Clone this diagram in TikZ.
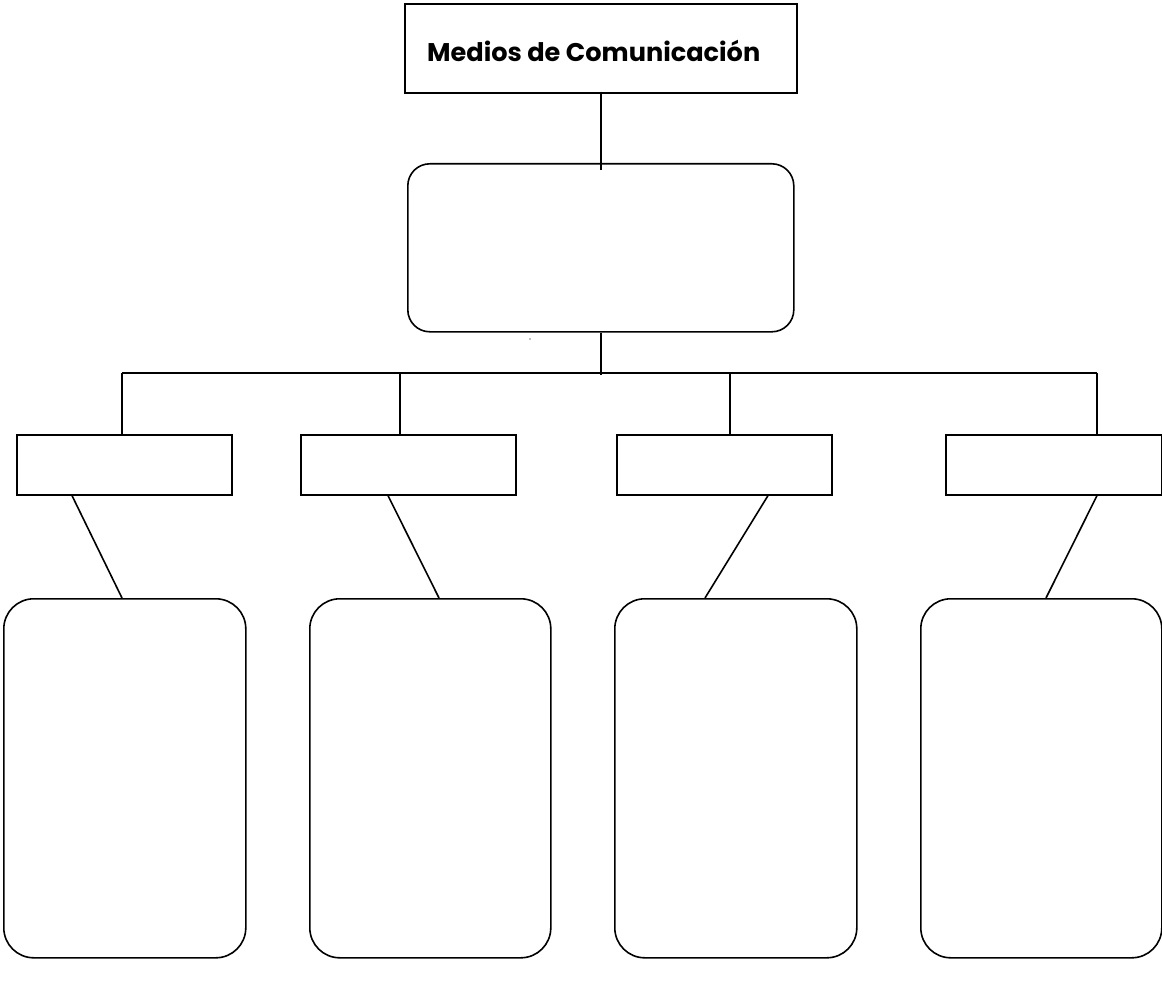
\documentclass[tikz,border=0pt]{standalone}
\usepackage{fontspec}
\setmainfont{Poppins}
\usetikzlibrary{calc}
\tikzset{
  box/.style={draw=black, line width=1.6pt, fill=white, inner sep=0pt, anchor=north west},
  rbox/.style={box, rounded corners=#1},
  link/.style={draw=black, line width=1.6pt},
}
\begin{document}
\begin{tikzpicture}[x=1pt,y=-1pt]
\useasboundingbox (0,0) rectangle (1162,987);
% title
\node[box, minimum width=392pt, minimum height=89pt] (title) at (404,3) {};
\node[anchor=base west, inner sep=0pt] (ttext) at (427,62) {\resizebox{333pt}{!}{\bfseries Medios de Comunicación}};
% central rounded box
\node[rbox=22pt, minimum width=386pt, minimum height=168pt] (mid) at (407,163) {};
% small boxes
\node[box, minimum width=215pt, minimum height=60pt] (s1) at (16,434) {};
\node[box, minimum width=215pt, minimum height=60pt] (s2) at (300,434) {};
\node[box, minimum width=215pt, minimum height=60pt] (s3) at (616,434) {};
\node[box, minimum width=216pt, minimum height=60pt] (s4) at (945,434) {};
% tall boxes
\node[rbox=30pt, minimum width=242pt, minimum height=359pt] (t1) at (3,598) {};
\node[rbox=30pt, minimum width=241pt, minimum height=359pt] (t2) at (309,598) {};
\node[rbox=30pt, minimum width=242pt, minimum height=359pt] (t3) at (614,598) {};
\node[rbox=30pt, minimum width=241pt, minimum height=359pt] (t4) at (920,598) {};
% connectors
\coordinate (bus) at ($(mid.south)+(0,42)$);
\draw[link] ($(title.south)+(0,-2)$) -- ($(mid.north)+(0,7)$);
\draw[link] (mid.south) -- (bus);
\coordinate (b1) at (122,373);
\coordinate (b2) at (400,373);
\coordinate (b3) at (730,373);
\coordinate (b4) at (1097,373);
\draw[link] (b1) -- (b4);
\draw[link] (b1) -- (b1 |- s1.north);
\draw[link] (b2) -- (b2 |- s2.north);
\draw[link] (b3) -- (b3 |- s3.north);
\draw[link] (b4) -- (b4 |- s4.north);
\draw[link] ($(s1.south west)+(56,0)$) -- ($(t1.north west)+(119,0)$);
\draw[link] ($(s2.south west)+(88,0)$) -- ($(t2.north west)+(130,0)$);
\draw[link] ($(s3.south west)+(152,0)$) -- ($(t3.north west)+(91,0)$);
\draw[link] ($(s4.south west)+(152,0)$) -- ($(t4.north west)+(126,0)$);
% tiny dot
\fill[gray] (530,339) circle (0.8pt);
\end{tikzpicture}
\end{document}
